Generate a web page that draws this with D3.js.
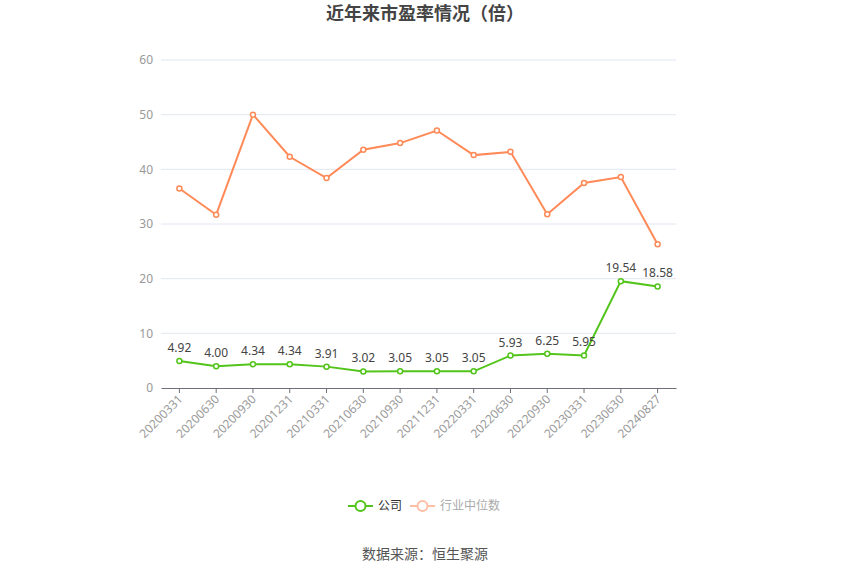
<!DOCTYPE html>
<html>
<head>
<meta charset="utf-8">
<script src="https://cdn.jsdelivr.net/npm/d3@7"></script>
<style>
  body { margin: 0; background: #fff; font-family: "Noto Sans CJK SC", "Noto Sans", sans-serif; }
</style>
</head>
<body>
<script>
// chart data
var dates = ["20200331", "20200630", "20200930", "20201231", "20210331", "20210630", "20210930",
    "20211231", "20220331", "20220630", "20220930", "20230331", "20230630", "20240827"]
var companyPE = [4.92, 4.00, 4.34, 4.34, 3.91, 3.02, 3.05, 3.05, 3.05, 5.93, 6.25, 5.95, 19.54, 18.58]
var industryPE = [36.5, 31.7, 50.0, 42.3, 38.4, 43.6, 44.8, 47.1, 42.6, 43.2, 31.8, 37.5, 38.6, 26.3]
var yTicks = [0, 10, 20, 30, 40, 50, 60]
var seriesNames = ["公司", "行业中位数"]

const width = 850
const height = 575
const plotLeft = 161, plotRight = 676, plotTop = 60, plotBottom = 388
const green = "#52c41a"
const orange = "#ff8a57"

var svg = d3.select("body").append("svg")
    .attr("width", width)
    .attr("height", height)

//title
svg.append("text")
    .attr("x", width / 2)
    .attr("y", 20)
    .attr("text-anchor", "middle")
    .attr("font-size", 18)
    .attr("font-weight", "bold")
    .attr("fill", "#444")
    .text("近年来市盈率情况（倍）")

var xScale = d3.scaleBand()
    .domain(dates)
    .range([plotLeft, plotRight])

var yScale = d3.scaleLinear()
    .domain([0, 60])
    .range([plotBottom, plotTop])

//grid lines
svg.append("g")
    .selectAll("line")
    .data(yTicks.filter(d => d > 0))
    .enter()
    .append("line")
    .attr("x1", plotLeft)
    .attr("x2", plotRight)
    .attr("y1", d => yScale(d))
    .attr("y2", d => yScale(d))
    .attr("stroke", "#e0e6f1")

//y axis
var yAxis = d3.axisLeft(yScale).tickValues(yTicks).tickSize(0).tickPadding(8)
var yg = svg.append("g")
    .attr("transform", "translate(" + plotLeft + ",0)")
    .call(yAxis)
yg.select(".domain").remove()
yg.selectAll("text")
    .attr("fill", "#999")
    .attr("font-size", 12)
    .attr("font-family", "Noto Sans, sans-serif")

//x axis
var xAxis = d3.axisBottom(xScale).tickSize(5).tickSizeOuter(0)
var xg = svg.append("g")
    .attr("transform", "translate(0," + plotBottom + ")")
    .call(xAxis)
xg.select(".domain").attr("stroke", "#6e7079")
xg.selectAll(".tick line").attr("stroke", "#6e7079")
xg.selectAll("text")
    .attr("fill", "#999")
    .attr("font-size", 12)
    .attr("font-family", "Noto Sans, sans-serif")
    .attr("text-anchor", "end")
    .attr("dy", null)
    .attr("y", 0)
    .attr("transform", "translate(4,12) rotate(-45)")

var cx = d => xScale(d) + xScale.bandwidth() / 2

function drawSeries(values, color) {
    var line = d3.line()
        .x((d, i) => cx(dates[i]))
        .y(d => yScale(d))
    svg.append("path")
        .datum(values)
        .attr("fill", "none")
        .attr("stroke", color)
        .attr("stroke-width", 2)
        .attr("d", line)
    svg.append("g")
        .selectAll("circle")
        .data(values)
        .enter()
        .append("circle")
        .attr("cx", (d, i) => cx(dates[i]))
        .attr("cy", d => yScale(d))
        .attr("r", 2.5)
        .attr("fill", "#fff")
        .attr("stroke", color)
        .attr("stroke-width", 1.5)
}

drawSeries(industryPE, orange)
drawSeries(companyPE, green)

//value labels for company
svg.append("g")
    .selectAll("text")
    .data(companyPE)
    .enter()
    .append("text")
    .attr("x", (d, i) => cx(dates[i]))
    .attr("y", d => yScale(d) - 9)
    .attr("text-anchor", "middle")
    .attr("font-size", 12)
    .attr("font-family", "Noto Sans, sans-serif")
    .attr("fill", "#444")
    .text(d => d.toFixed(2))

//legend
var legend = svg.append("g").attr("transform", "translate(0,506)")
var items = [
    { name: seriesNames[0], color: green, text: "#333", x: 348 },
    { name: seriesNames[1], color: "#ffbfa5", text: "#aaa", x: 410 }
]
items.forEach(function (it) {
    legend.append("line")
        .attr("x1", it.x).attr("x2", it.x + 25)
        .attr("y1", 0).attr("y2", 0)
        .attr("stroke", it.color).attr("stroke-width", 2)
    legend.append("circle")
        .attr("cx", it.x + 12.5).attr("cy", 0).attr("r", 5)
        .attr("fill", "#fff").attr("stroke", it.color).attr("stroke-width", 2)
    legend.append("text")
        .attr("x", it.x + 30).attr("y", 4)
        .attr("font-size", 12)
        .attr("fill", it.text)
        .text(it.name)
})

//source
svg.append("text")
    .attr("x", width / 2)
    .attr("y", 559)
    .attr("text-anchor", "middle")
    .attr("font-size", 14)
    .attr("fill", "#555")
    .text("数据来源：恒生聚源")
</script>
</body>
</html>
